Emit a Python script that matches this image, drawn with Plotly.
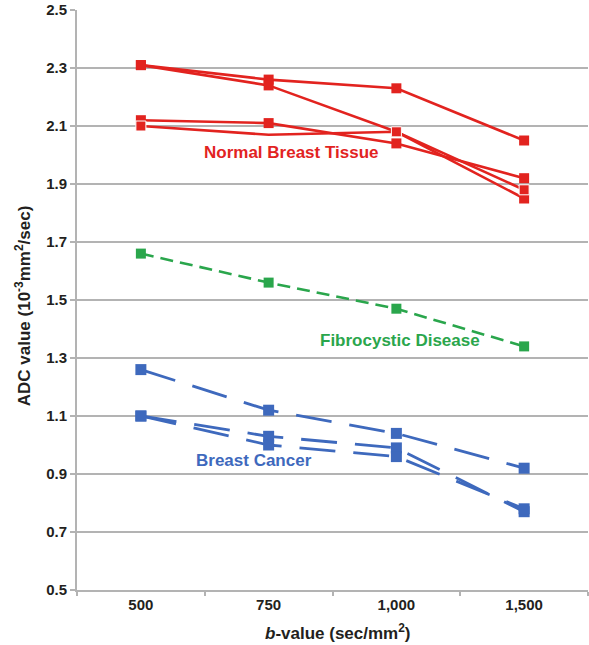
import plotly.graph_objects as go

b_values = ["500", "750", "1,000", "1,500"]
y_ticks = [0.5, 0.7, 0.9, 1.1, 1.3, 1.5, 1.7, 1.9, 2.1, 2.3, 2.5]

normal_1 = [2.31, 2.26, 2.23, 2.05]
normal_2 = [2.31, 2.24, 2.08, 1.85]
normal_3 = [2.12, 2.11, 2.04, 1.92]
normal_4 = [2.10, 2.07, 2.08, 1.88]

fibro = [1.66, 1.56, 1.47, 1.34]

cancer_1 = [1.26, 1.12, 1.04, 0.92]
cancer_2 = [1.10, 1.03, 0.99, 0.77]
cancer_3 = [1.10, 1.00, 0.96, 0.78]

RED = "#E2231F"
GREEN = "#2AA64C"
BLUE = "#3E69BD"
DARK = "#231F20"
FONT = "Liberation Sans, Arial, sans-serif"

fig = go.Figure()

def add(vals, color, dash, msize, width=2.6):
    fig.add_trace(go.Scatter(
        x=b_values, y=vals, mode="lines+markers",
        line=dict(color=color, width=width, dash=dash),
        marker=dict(symbol="square", size=msize, color=color, opacity=1),
        showlegend=False, hoverinfo="skip"))

add(normal_1, RED, "solid", 10)
add(normal_2, RED, "solid", 10)
add(normal_3, RED, "solid", 10)
add(normal_4, RED, "solid", [10, 0, 10, 10])
add(fibro, GREEN, "13px,7px", 10)
add(cancer_1, BLUE, "36px,18px", 11, 2.8)
add(cancer_2, BLUE, "36px,18px", 11, 2.8)
add(cancer_3, BLUE, "36px,18px", 11, 2.8)

labels = [("Normal Breast Tissue", 1.175, 2.01, RED),
          ("Fibrocystic Disease", 2.03, 1.359, GREEN),
          ("Breast Cancer", 0.885, 0.948, BLUE)]
for txt, x, y, c in labels:
    fig.add_annotation(x=x, y=y, xref="x", yref="y", text="<b>%s</b>" % txt,
                       showarrow=False, font=dict(family=FONT, size=17, color=c))

# axis titles
fig.add_annotation(x=0.511, y=-0.0724, xref="paper", yref="paper",
                   text="<b><i>b</i>-value (sec/mm<sup>2</sup>)</b>",
                   showarrow=False, xanchor="center", yanchor="middle",
                   font=dict(family=FONT, size=17, color=DARK))
fig.add_annotation(x=-0.1057, y=0.491, xref="paper", yref="paper",
                   text="<b>ADC value (10<sup>-3</sup>mm<sup>2</sup>/sec)</b>",
                   textangle=-90, showarrow=False, xanchor="center", yanchor="middle",
                   font=dict(family=FONT, size=17, color=DARK))

fig.update_layout(
    width=589, height=645,
    margin=dict(l=77, r=1, t=10, b=55),
    paper_bgcolor="white", plot_bgcolor="white",
    font=dict(family=FONT, color=DARK),
    xaxis=dict(
        type="category", range=[-0.5, 3.5], tickson="boundaries",
        ticks="outside", ticklen=4, tickcolor="#B3B3B3", tickwidth=1.5,
        showline=True, linecolor="#B3B3B3", linewidth=2,
        showgrid=False, zeroline=False, automargin=False,
        tickfont=dict(family=FONT, size=15, color=DARK),
        ticktext=["<b>%s</b>" % t for t in b_values], tickvals=b_values,
    ),
    yaxis=dict(
        range=[0.5, 2.5], tickvals=y_ticks,
        ticktext=["<b>%.1f</b>" % v for v in y_ticks],
        ticks="outside", ticklen=5, tickcolor="#B3B3B3", tickwidth=1.5,
        showline=True, linecolor="#B3B3B3", linewidth=2,
        showgrid=True, gridcolor="#B3B3B3", gridwidth=1.5,
        zeroline=False, automargin=False,
        tickfont=dict(family=FONT, size=15, color=DARK),
    ),
)

fig.write_html("out.html", config={"displayModeBar": False},
               post_script="document.body.style.margin='0';document.body.style.overflow='hidden';")
